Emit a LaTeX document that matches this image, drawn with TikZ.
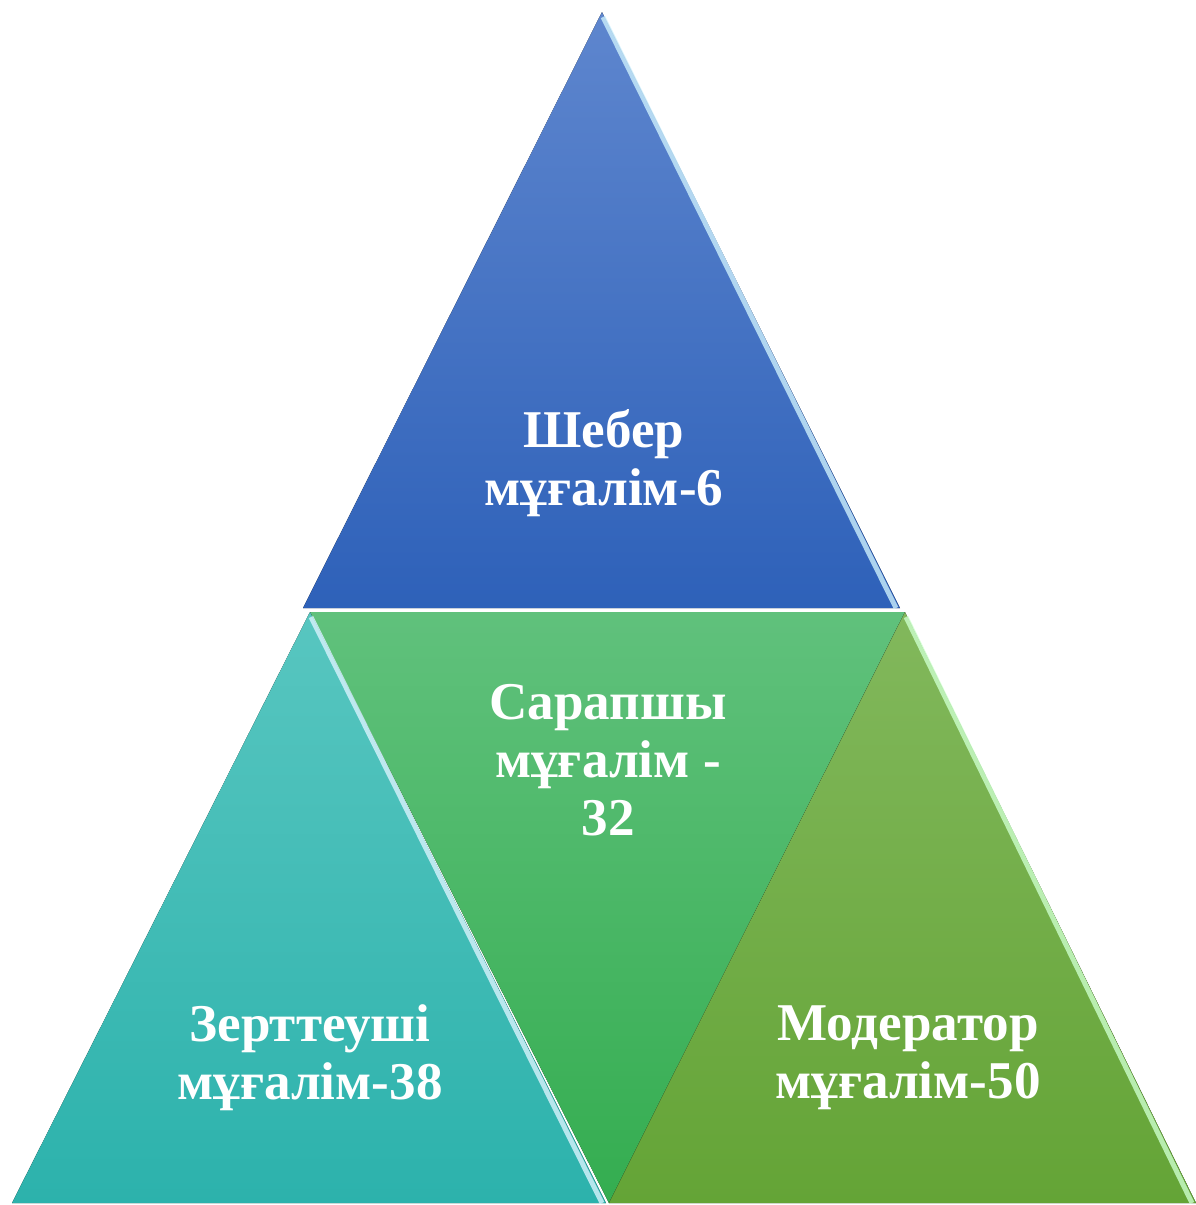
\documentclass[tikz,border=0pt]{standalone}
\usepackage{fontspec}
\setmainfont{Liberation Serif}
\usepackage{xcolor}
\usetikzlibrary{positioning,calc}
\definecolor{topblueA}{RGB}{94,134,206}
\definecolor{topblueB}{RGB}{46,97,185}
\definecolor{midgreenA}{RGB}{96,193,124}
\definecolor{midgreenB}{RGB}{52,173,80}
\definecolor{tealA}{RGB}{88,198,192}
\definecolor{tealB}{RGB}{44,178,172}
\definecolor{oliveA}{RGB}{130,184,92}
\definecolor{oliveB}{RGB}{100,164,54}
\tikzset{
  % triangles
  tri/.style={draw=none},
  % light bevel along the right edge
  shine/.style={line width=1.4pt, opacity=0.8},
  % labels
  lab/.style={text=white, font=\fontsize{15.1}{16.4}\selectfont\bfseries, align=center},
}
\begin{document}
\begin{tikzpicture}[x=0.01cm, y=-0.01cm]
    \useasboundingbox (0,0) rectangle (1196,1205);

    % vertices
    \coordinate (apex) at (602,12);
    \coordinate (tl) at (303,608);
    \coordinate (tr) at (900,608);
    \coordinate (ml) at (310,612);
    \coordinate (mr) at (905,612);
    \coordinate (bl) at (12,1203);
    \coordinate (bm) at (606,1203);
    \coordinate (bm2) at (609,1203);
    \coordinate (br) at (1196,1203);

    % Top
    \fill[tri, top color=topblueA, bottom color=topblueB] (apex) -- (tr) -- (tl) -- cycle;
    \draw[shine, cyan!20!white] ($(apex)+(1,5)$) -- ($(tr)+(-4,0)$);

    % Middle
    \fill[tri, top color=midgreenA, bottom color=midgreenB] (ml) -- (mr) -- (bm2) -- cycle;

    % Left
    \fill[tri, top color=tealA, bottom color=tealB] (ml) -- (bm) -- (bl) -- cycle;
    \draw[shine, cyan!15!white] ($(ml)+(1,5)$) -- ($(bm)+(-4,0)$);

    % Right
    \fill[tri, top color=oliveA, bottom color=oliveB] (mr) -- (br) -- (bm2) -- cycle;
    \draw[shine, green!20!white] ($(mr)+(1,5)$) -- ($(br)+(-4,0)$);

    % labels
    \node[lab] (master) at (604,463) {Шебер\\мұғалім-6};
    \node[lab] (expert) at (608,760) {Сарапшы\\мұғалім -\\32};
    \node[lab] (research) at (310,1058) {Зерттеуші\\мұғалім-38};
    \node[lab] (moder) at (908,1058) {Модератор\\мұғалім-50};
\end{tikzpicture}
\end{document}
